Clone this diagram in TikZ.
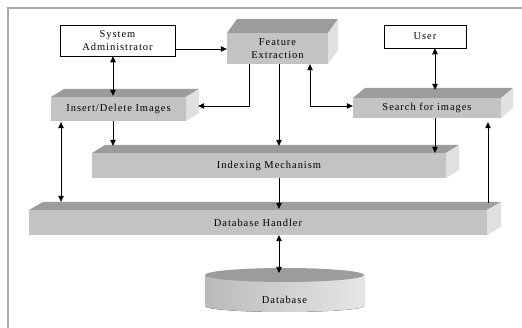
\documentclass[tikz,border=0pt]{standalone}
\usepackage{fontspec}
\setmainfont{Liberation Serif}[LetterSpace=9]
\usetikzlibrary{arrows.meta,calc}
\definecolor{frontc}{HTML}{C3C3C3}
\definecolor{topc}{HTML}{9C9C9C}
\definecolor{sidec}{HTML}{E0E0E0}
\definecolor{framec}{HTML}{A8A8A8}
\definecolor{cylL}{HTML}{BABABA}
\definecolor{cylR}{HTML}{E6E6E6}
\newcommand\threedbox[8]{%
  \fill[topc] (#2,#3) -- (#2+#6,#3-#7) -- (#4+#6,#3-#7) -- (#4,#3) -- cycle;
  \fill[sidec] (#4,#3) -- (#4+#6,#3-#7) -- (#4+#6,#5-#7) -- (#4,#5) -- cycle;
  \node[front, minimum width={(#4-#2)*1pt}, minimum height={(#5-#3)*1pt}] (#1) at ({(#2+#4)/2},{(#3+#5)/2}) {#8};
}
\begin{document}
\begin{tikzpicture}[x=1pt,y=-1pt,
  every node/.style={font=\fontsize{10.5}{12.5}\selectfont},
  front/.style={fill=frontc, inner sep=0pt, align=center},
  plainbox/.style={draw=black, line width=0.6pt, fill=white, align=center, inner sep=0pt},
  arr/.style={line width=0.6pt, -{Triangle[length=6pt,width=5.5pt]}},
  darr/.style={line width=0.6pt, {Triangle[length=6pt,width=5.5pt]}-{Triangle[length=6pt,width=5.5pt]}}]
\useasboundingbox (0,0) rectangle (522,328);
\fill[white] (0,0) rectangle (522,328);
\draw[framec, line width=1.5pt] (8,328) -- (8,8) -- (522,8);

\node[plainbox, minimum width=115pt, minimum height=31pt] (sa) at (117.5,40.5) {System\\Administrator};
\node[plainbox, minimum width=82pt, minimum height=23pt] (user) at (425,36.5) {User};
\threedbox{fe}{227}{33}{328}{64}{10}{14}{Feature\\Extraction}
\threedbox{ins}{51}{97}{186}{121}{13}{8}{Insert/Delete Images}
\threedbox{srch}{353}{98}{501}{118}{12}{10}{Search for images}
\threedbox{idx}{92}{153}{446}{178}{13}{8}{Indexing Mechanism}
\threedbox{dbh}{29}{210}{487}{235}{14}{8}{Database Handler}

\fill[left color=cylL, right color=cylR] (205,275) -- (205,306) arc[start angle=180,end angle=360,x radius=79.5pt,y radius=6pt] -- (364,275) -- cycle;
\fill[topc] (284.5,275) ellipse[x radius=79.5pt, y radius=7pt];
\node (db) at (284.5,300) {Database};

\draw[arr] ($(sa.east)+(0,8.5)$) -- ($(sa.east -| fe.west)+(0,8.5)$);
\draw[darr] ($(sa.south)+(-4.5,0)$) -- ($(sa.south |- ins.north)+(-4.5,-1)$);
\draw[arr] ($(fe.south)+(-28.5,0)$) |- ($(ins.east)+(12,-3)$);
\draw[arr] ($(fe.south)+(1.5,0)$) -- ($(fe.south |- idx.north)+(1.5,-7)$);
\draw[darr] ($(fe.south)+(32.5,0)$) |- ($(srch.west)+(0,-2)$);
\draw[darr] ($(user.south)+(10,0)$) -- ($(user.south |- srch.north)+(10,-8)$);
\draw[arr] ($(ins.south)+(-5.5,0)$) -- ($(ins.south |- idx.north)+(-5.5,-7)$);
\draw[arr] ($(srch.south)+(8,0)$) -- ($(srch.south |- idx.north)+(8,0)$);
\draw[arr] ($(idx.south)+(10,0)$) -- ($(idx.south |- dbh.north)+(10,-1)$);
\draw[darr] ($(ins.south)+(-57.5,1)$) -- ($(ins.south |- dbh.north)+(-57.5,-8)$);
\draw[arr] ($(dbh.north)+(230,-7)$) -- ($(srch.south)+(61,4)$);
\draw[darr] ($(dbh.south)+(21,0)$) -- ($(dbh.south |- db.center)+(21,-27)$);
\end{tikzpicture}
\end{document}
